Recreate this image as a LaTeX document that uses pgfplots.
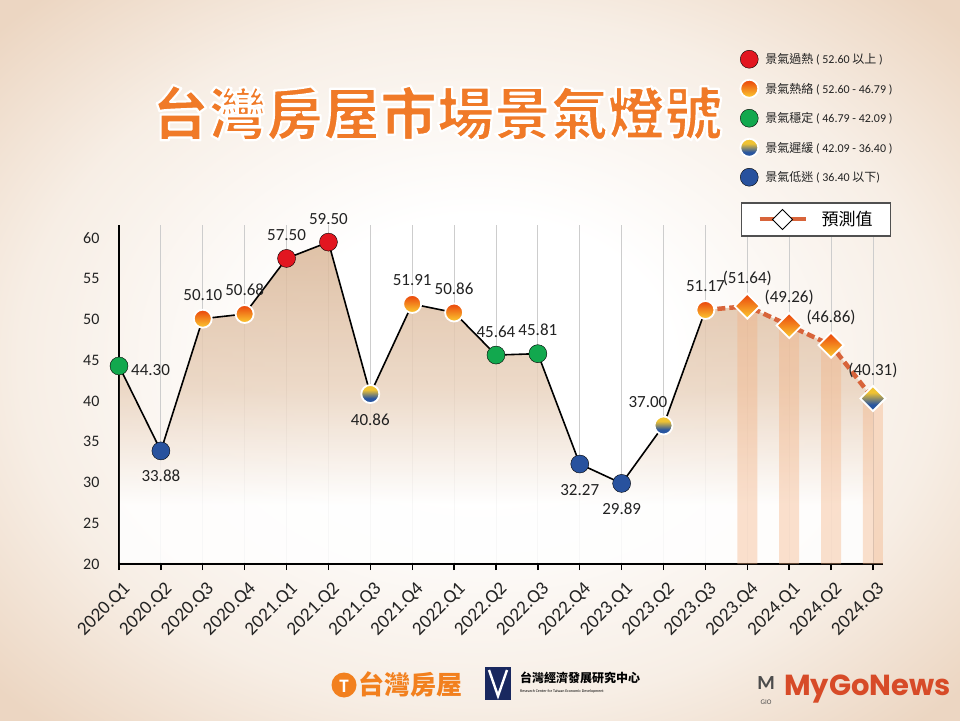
\documentclass[border=0pt]{standalone}
\usepackage{fontspec}
\setmainfont{Carlito}
\newfontfamily\cjk{Noto Sans CJK TC}
\newfontfamily\logofont{Poppins}
\usepackage{pgfplots}
\pgfplotsset{compat=1.18}

\definecolor{redC}{RGB}{226,22,32}
\definecolor{oraTop}{RGB}{236,80,15}
\definecolor{oraBot}{RGB}{250,190,45}
\definecolor{greenC}{RGB}{18,168,78}
\definecolor{ybTop}{RGB}{240,195,50}
\definecolor{ybBot}{RGB}{40,85,160}
\definecolor{blueC}{RGB}{40,82,158}
\definecolor{fcLine}{RGB}{216,100,58}
\definecolor{fillTop}{RGB}{218,183,152}
\definecolor{fillMid}{RGB}{234,212,192}
\definecolor{stripeC}{RGB}{244,176,128}
\definecolor{gridC}{RGB}{205,205,205}
\definecolor{titleC}{RGB}{240,122,40}
\definecolor{textC}{RGB}{34,34,34}
\definecolor{bgEdge}{RGB}{236,214,194}
\definecolor{bgMid}{RGB}{247,238,229}
\definecolor{boxC}{RGB}{80,80,80}
\definecolor{logoOra}{RGB}{242,128,30}
\definecolor{navyC}{RGB}{25,40,95}
\definecolor{mgC}{RGB}{215,75,40}

\pgfdeclareverticalshading{oraSh}{100bp}{color(0bp)=(oraBot); color(30bp)=(oraBot); color(70bp)=(oraTop); color(100bp)=(oraTop)}
\pgfdeclareverticalshading{ybSh}{100bp}{color(0bp)=(ybBot); color(38bp)=(ybBot); color(62bp)=(ybTop); color(100bp)=(ybTop)}
\pgfdeclareverticalshading{fillSh}{100bp}{color(0bp)=(white); color(34bp)=(white); color(52bp)=(fillMid); color(75bp)=(fillTop); color(100bp)=(fillTop)}
\pgfdeclareradialshading{bgSh}{\pgfpoint{0bp}{0bp}}{color(0bp)=(white); color(10bp)=(white); color(24bp)=(bgMid); color(34bp)=(bgEdge); color(50bp)=(bgEdge)}

% shaded markers
\pgfdeclareplotmark{oracirc}{\pgfpathcircle{\pgfpointorigin}{\pgfplotmarksize}\pgfshadepath{oraSh}{0}\pgfusepathqstroke}
\pgfdeclareplotmark{ybcirc}{\pgfpathcircle{\pgfpointorigin}{\pgfplotmarksize}\pgfshadepath{ybSh}{0}\pgfusepathqstroke}
\pgfdeclareplotmark{oradiam}{%
  \pgfpathmoveto{\pgfqpoint{0pt}{1.35\pgfplotmarksize}}%
  \pgfpathlineto{\pgfqpoint{1.35\pgfplotmarksize}{0pt}}%
  \pgfpathlineto{\pgfqpoint{0pt}{-1.35\pgfplotmarksize}}%
  \pgfpathlineto{\pgfqpoint{-1.35\pgfplotmarksize}{0pt}}%
  \pgfpathclose\pgfshadepath{oraSh}{0}\pgfusepathqstroke}
\pgfdeclareplotmark{ybdiam}{%
  \pgfpathmoveto{\pgfqpoint{0pt}{1.35\pgfplotmarksize}}%
  \pgfpathlineto{\pgfqpoint{1.35\pgfplotmarksize}{0pt}}%
  \pgfpathlineto{\pgfqpoint{0pt}{-1.35\pgfplotmarksize}}%
  \pgfpathlineto{\pgfqpoint{-1.35\pgfplotmarksize}{0pt}}%
  \pgfpathclose\pgfshadepath{ybSh}{0}\pgfusepathqstroke}

% white outline for the title (fill + stroke text)
\makeatletter
\newcommand\outlineon{\pgfsys@invoke{ 2 Tr 1 1 1 RG 2.2 w 1 j }}
\newcommand\outlineoff{\pgfsys@invoke{ 0 Tr }}
\makeatother

\pgfplotsset{
  dot/.style={forget plot, only marks, mark size=9pt, mark options={draw=white, line width=1.8pt}},
  lbl/.style={forget plot, draw=none, mark=none, nodes near coords={\pgfplotspointmeta},
    point meta=explicit symbolic,
    nodes near coords style={inner sep=0pt, text=textC, font=\fontsize{17}{17}\selectfont, #1}},
}

\begin{document}
\begin{tikzpicture}
\useasboundingbox (0,0) rectangle (960pt,720pt);
\shade[shading=bgSh] (0,0) rectangle (960pt,720pt);

% title
\node[text=titleC, font=\cjk\bfseries\fontsize{57}{57}\selectfont] at (437pt,607pt) {\outlineon 台灣房屋市場景氣燈號\outlineoff};

\begin{axis}[
  scale only axis, width=764pt, height=339pt,
  at={(119pt,156pt)}, anchor=south west,
  xmin=0, xmax=18.24, ymin=20, ymax=61.6,
  axis x line*=bottom, axis y line*=left,
  x axis line style={line width=2.6pt},
  y axis line style={line width=1.8pt},
  xtick={0,1,...,18},
  xticklabels={2020.Q1,2020.Q2,2020.Q3,2020.Q4,2021.Q1,2021.Q2,2021.Q3,2021.Q4,2022.Q1,2022.Q2,2022.Q3,2022.Q4,2023.Q1,2023.Q2,2023.Q3,2023.Q4,2024.Q1,2024.Q2,2024.Q3},
  ytick={20,25,...,60},
  tick align=outside, major tick length=6pt,
  xtick style={black, line width=1.4pt},
  ytick style={draw=none},
  xmajorgrids, x grid style={gridC, line width=0.8pt},
  xticklabel style={yshift=-8pt, xshift=3pt, rotate=45, anchor=north east, inner sep=2pt,
    font=\fontsize{19}{19}\selectfont, text=textC},
  yticklabel style={font=\fontsize{16}{16}\selectfont, text=textC, xshift=-10pt},
  /pgf/number format/assume math mode=true,
  legend cell align=left,
  legend style={at={(0.809,1.522)}, anchor=north west, draw=none, fill=none,
    font=\fontsize{12}{12}\selectfont, text=textC, row sep=11.5pt,
    /tikz/every odd column/.append style={column sep=5pt}},
]
% area under the curve
\addplot[forget plot, draw=none, shade, shading=fillSh, fill opacity=0.85]
  coordinates {(0.02,20.17) (0.02,44.30) (1,33.88) (2,50.10) (3,50.68) (4,57.50) (5,59.50) (6,40.86)
  (7,51.91) (8,50.86) (9,45.64) (10,45.81) (11,32.27) (12,29.89) (13,37.00) (14,51.17)
  (15,51.64) (16,49.26) (17,46.86) (18,40.31) (18,20.17)};
% forecast stripes
\addplot[forget plot, ybar, bar width=20pt, draw=none, fill=stripeC, fill opacity=0.38]
  coordinates {(15,51.64) (16,49.26) (17,46.86) (18,40.31)};
% actual line
\addplot[forget plot, black, line width=1.6pt, mark=none]
  coordinates {(0,44.30) (1,33.88) (2,50.10) (3,50.68) (4,57.50) (5,59.50) (6,40.86)
  (7,51.91) (8,50.86) (9,45.64) (10,45.81) (11,32.27) (12,29.89) (13,37.00) (14,51.17)};
% forecast line
\addplot[forget plot, fcLine, line width=4.5pt, dash pattern=on 8pt off 4pt, mark=none]
  coordinates {(14,51.17) (15,51.64) (16,49.26) (17,46.86) (18,40.31)};

% markers by signal
\addplot[dot, forget plot=false, mark=*, mark options={fill=redC}]
  coordinates {(4,57.50) (5,59.50)};
\addlegendentry{{\cjk 景氣過熱} ( 52.60 {\cjk 以上} )}
\addplot[dot, forget plot=false, mark=oracirc]
  coordinates {(2,50.10) (3,50.68) (7,51.91) (8,50.86) (14,51.17)};
\addlegendentry{{\cjk 景氣熱絡} ( 52.60 - 46.79 )}
\addplot[dot, forget plot=false, mark=*, mark options={fill=greenC}]
  coordinates {(0,44.30) (9,45.64) (10,45.81)};
\addlegendentry{{\cjk 景氣穩定} ( 46.79 - 42.09 )}
\addplot[dot, forget plot=false, mark=ybcirc]
  coordinates {(6,40.86) (13,37.00)};
\addlegendentry{{\cjk 景氣遲緩} ( 42.09 - 36.40 )}
\addplot[dot, forget plot=false, mark=*, mark options={fill=blueC}]
  coordinates {(1,33.88) (11,32.27) (12,29.89)};
\addlegendentry{{\cjk 景氣低迷} ( 36.40 {\cjk 以下})}
\addplot[dot, mark=oradiam, mark size=9.3pt]
  coordinates {(15,51.64) (16,49.26) (17,46.86)};
\addplot[dot, mark=ybdiam, mark size=9.3pt]
  coordinates {(18,40.31)};

% value labels
\addplot[lbl={anchor=base, yshift=18pt}] coordinates {(2,50.10)[50.10] (3,50.68)[50.68]
  (4,57.50)[57.50] (5,59.50)[59.50] (7,51.91)[51.91] (8,50.86)[50.86] (9,45.64)[45.64]
  (10,45.81)[45.81] (14,51.17)[51.17]};
\addplot[lbl={anchor=base, yshift=23pt}] coordinates {(15,51.64)[(51.64)] (16,49.26)[(49.26)]
  (17,46.86)[(46.86)] (18,40.31)[(40.31)]};
\addplot[lbl={anchor=base, yshift=-31pt}] coordinates {(1,33.88)[33.88] (6,40.86)[40.86]
  (11,32.27)[32.27] (12,29.89)[29.89]};
\addplot[lbl={anchor=west, xshift=12pt, yshift=-4pt}] coordinates {(0,44.30)[44.30]};
\addplot[lbl={anchor=base east, xshift=4pt, yshift=18pt}] coordinates {(13,37.00)[37.00]};
\end{axis}

% forecast legend box
\begin{axis}[
  hide axis, scale only axis, width=152pt, height=39pt,
  at={(740pt,481pt)}, anchor=south west,
  xmin=0, xmax=1, ymin=0, ymax=1,
  legend style={at={(0.5,0.5)}, anchor=center, draw=boxC, line width=1.3pt, fill=white,
    font=\cjk\fontsize{17}{17}\selectfont, text=black, inner xsep=16pt, inner ysep=6pt,
    /tikz/every odd column/.append style={column sep=12pt}},
  legend image code/.code={
    \draw[fcLine, line width=4pt] (0pt,0pt) -- (46pt,0pt);
    \draw[black, fill=white, line width=1pt] (13pt,0pt) -- (23pt,10pt) -- (33pt,0pt) -- (23pt,-10pt) -- cycle;
  },
]
\addplot[forget plot, draw=none, mark=none] coordinates {(0,0) (1,1)};
\addlegendimage{fcLine}
\addlegendentry{預測值}
\end{axis}

% logos
\fill[logoOra] (344pt,35pt) circle (12.5pt);
\node[text=white, font=\bfseries\fontsize{19}{19}\selectfont] at (344pt,34pt) {T};
\node[anchor=west, inner sep=0pt, text=logoOra, font=\cjk\bfseries\fontsize{26}{26}\selectfont] at (358pt,35pt) {台灣房屋};
\fill[navyC] (485pt,20pt) rectangle (511pt,53pt);
\draw[white, line width=2.4pt] (489pt,50pt) -- (498pt,24pt) -- (507pt,50pt);
\node[anchor=west, inner sep=0pt, text=black, font=\cjk\bfseries\fontsize{12}{12}\selectfont] at (520pt,42pt) {台灣經濟發展研究中心};
\node[anchor=west, inner sep=0pt, text=black, font=\fontsize{4}{4}\selectfont] at (520pt,29pt) {Research Center for Taiwan Economic Development};
\node[text=gray!60!black, font=\bfseries\fontsize{20}{20}\selectfont] at (766pt,37pt) {M};
\node[text=gray!60!black, font=\fontsize{7}{7}\selectfont] at (766pt,18pt) {GIO};
\node[anchor=west, inner sep=0pt, text=mgC, font=\logofont\bfseries\fontsize{29}{29}\selectfont] at (784pt,31pt) {MyGoNews};
\end{tikzpicture}
\end{document}
